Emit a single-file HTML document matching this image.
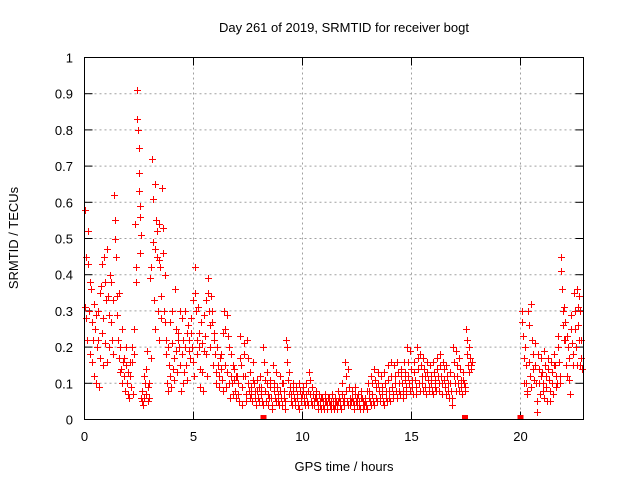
<!DOCTYPE html>
<html><head><meta charset="utf-8"><style>
body{margin:0;background:#fff}
svg text{font-family:"Liberation Sans",sans-serif;font-size:13px;fill:#000}
</style></head><body>
<svg id="chart" width="640" height="480" viewBox="0 0 640 480">
<rect width="640" height="480" fill="#fff"/>
<text x="344" y="32" text-anchor="middle">Day 261 of 2019, SRMTID for receiver bogt</text>
<text transform="translate(18,238) rotate(-90)" text-anchor="middle">SRMTID / TECUs</text>
<text x="344" y="471" text-anchor="middle">GPS time / hours</text>
<g id="grid"></g>
<g id="ticks"></g>
<g id="pts" shape-rendering="crispEdges"></g>
<rect x="84.5" y="57.5" width="499" height="362" fill="none" stroke="#000"/>
</svg>
<script>
const xTicks=[0,5,10,15,20];
const yTicks=[0,0.1,0.2,0.3,0.4,0.5,0.6,0.7,0.8,0.9,1];
const yTickLabels=["0","0.1","0.2","0.3","0.4","0.5","0.6","0.7","0.8","0.9","1"];
const times=[0,0.15,0.3,0.45,0.6,0.75,0.9,1.05,1.2,1.35,1.5,1.65,1.8,1.95,2.1,2.25,2.4,2.5,2.65,2.8,2.95,3.1,3.25,3.4,3.55,3.7,3.85,4,4.15,4.3,4.45,4.6,4.75,4.9,5.05,5.2,5.35,5.5,5.65,5.8,5.95,6.1,6.25,6.4,6.55,6.7,6.85,7,7.15,7.3,7.45,7.6,7.75,7.9,8.05,8.2,8.35,8.5,8.65,8.8,8.95,9.1,9.25,9.4,9.55,9.7,9.85,10,10.15,10.3,10.45,10.6,10.75,10.9,11.05,11.2,11.35,11.5,11.65,11.8,11.95,12.1,12.25,12.4,12.55,12.7,12.85,13,13.15,13.3,13.45,13.6,13.75,13.9,14.05,14.2,14.35,14.5,14.65,14.8,14.95,15.1,15.25,15.4,15.55,15.7,15.85,16,16.15,16.3,16.45,16.6,16.75,16.9,17.05,17.2,17.35,17.5,17.65,20.05,20.2,20.35,20.5,20.65,20.8,20.95,21.1,21.25,21.4,21.55,21.7,21.85,22,22.15,22.3,22.45,22.6,22.7];
const values=[
[.58,.31,.28,.45,.22],[.52,.43,.3,.18,.38],[.36,.27,.16,.22,.12],[.32,.25,.1,.29,.2],[.3,.22,.09,.35,.17],[.37,.43,.24,.15,.28],[.45,.38,.21,.33,.16],[.47,.34,.29,.2,.4],[.38,.27,.22,.33,.18],[.62,.55,.5,.45,.34],
[.29,.22,.17,.35,.13],[.2,.14,.1,.25,.16],[.17,.12,.08,.15,.2],[.1,.07,.13,.06,.16],[.12,.09,.16,.2,.07],[.25,.18,.54,.42,.38],[.91,.83,.8,.75,.63,.59,.51],[.68,.56,.46,.06,.05],[.08,.04,.12,.06,.1],[.07,.14,.19,.05,.09],
[.1,.06,.39,.42,.17],[.72,.61,.49,.33,.25,.47],[.65,.55,.52,.45,.3,.22],[.54,.44,.42,.34,.28],[.64,.53,.46,.3,.27],[.4,.22,.18,.1,.08],[.2,.15,.12,.27,.09],[.3,.21,.14,.11,.17],[.36,.25,.19,.13,.22],[.24,.2,.3,.15,.08],
[.18,.28,.1,.22,.13],[.3,.2,.15,.24,.11],[.26,.22,.19,.17,.28],[.24,.2,.33,.16,.12],[.42,.35,.3,.18,.22],[.31,.24,.2,.14,.09],[.27,.21,.13,.08,.19],[.29,.23,.18,.33,.12],[.39,.35,.3,.26,.2],[.34,.3,.27,.15,.22],
[.24,.18,.13,.1,.2],[.2,.15,.12,.09,.17],[.18,.14,.11,.08,.24],[.3,.25,.15,.09,.13],[.29,.23,.2,.1,.06],[.18,.12,.1,.07,.15],[.14,.11,.08,.06,.12],[.12,.1,.07,.05,.17],[.23,.15,.09,.04,.12],[.21,.18,.12,.07,.05],
[.22,.17,.1,.08,.06],[.13,.09,.07,.05,.11],[.16,.1,.08,.06,.04],[.11,.08,.06,.05,.09],[.12,.09,.07,.05,.04],[.2,.16,.11,.08,.05],[.13,.1,.07,.04,.06],[.11,.09,.06,.04,.03],[.15,.1,.08,.06,.05],[.13,.09,.07,.05,.04],
[.12,.08,.06,.04,.1],[.1,.08,.06,.05,.03],[.22,.2,.16,.11,.07],[.13,.09,.07,.05,.04],[.1,.08,.06,.05,.04],[.09,.07,.06,.04,.03],[.1,.08,.06,.05,.07],[.09,.08,.06,.05,.04],[.1,.07,.05,.04,.08],[.13,.11,.07,.05,.04],
[.09,.07,.05,.04,.06],[.08,.06,.05,.04,.03],[.07,.05,.04,.03,.06],[.06,.05,.04,.03,.05],[.07,.05,.04,.03,.06],[.06,.05,.04,.03,.05],[.07,.05,.04,.03,.04],[.06,.05,.04,.03,.05],[.08,.06,.05,.04,.03],[.1,.07,.05,.04,.06],
[.16,.12,.08,.05,.04],[.14,.09,.06,.04,.05],[.08,.06,.05,.04,.03],[.09,.07,.05,.04,.06],[.07,.05,.04,.03,.06],[.08,.06,.05,.03,.04],[.06,.05,.04,.03,.08],[.1,.08,.06,.05,.04],[.12,.1,.07,.05,.04],[.14,.11,.09,.06,.05],
[.13,.1,.08,.06,.05],[.12,.09,.07,.05,.04],[.13,.1,.08,.06,.05],[.15,.11,.08,.06,.05],[.16,.12,.09,.07,.06],[.15,.12,.1,.08,.06],[.16,.13,.1,.08,.07],[.14,.12,.1,.08,.06],[.16,.13,.11,.09,.07],[.2,.16,.12,.1,.08],
[.19,.14,.11,.09,.07],[.16,.13,.11,.09,.07],[.2,.17,.14,.1,.08],[.18,.15,.12,.1,.08],[.17,.14,.12,.09,.07],[.16,.13,.11,.09,.08],[.15,.12,.1,.08,.07],[.16,.13,.11,.09,.08],[.17,.14,.12,.1,.08],[.18,.15,.12,.1,.07],
[.16,.14,.11,.09,.07],[.15,.12,.1,.08,.06],[.13,.1,.08,.06,.04],[.2,.16,.12,.1,.08],[.19,.15,.12,.1,.08],[.17,.14,.11,.09,.07],[.13,.11,.1,.09,.08],[.25,.22,.18,.15,.13],[.2,.17,.15,.14,.16],
[.3,.27,.23,.17,.1],[.2,.15,.1,.08,.07],[.3,.26,.16,.12,.09],[.32,.22,.18,.14,.11],[.21,.15,.1,.05,.02],[.18,.14,.1,.07,.12],[.17,.13,.1,.08,.06],[.19,.15,.12,.09,.05],[.17,.14,.11,.08,.05],[.16,.13,.1,.07,.15],
[.18,.15,.12,.09,.1],[.23,.2,.16,.12,.1],[.45,.41,.36,.3,.26,.22],[.31,.27,.22,.15,.12],[.23,.2,.17,.11,.07],[.29,.25,.21,.18,.15],[.35,.3,.25,.2,.15],[.36,.31,.26,.22,.15],[.34,.3,.22,.17,.14]];
const zeroTimes=[8.2,17.45,20.0];

const NS="http://www.w3.org/2000/svg";
const X0=84.5,PXH=21.8,Y0=419.5,PXV=362;
function sx(t){return X0+t*PXH;}
function sy(v){return Y0-v*PXV;}
function mk(tag,a,parent){const e=document.createElementNS(NS,tag);for(const k in a)e.setAttribute(k,a[k]);parent.appendChild(e);return e;}
const grid=document.getElementById('grid'),ticks=document.getElementById('ticks'),pts=document.getElementById('pts');
yTicks.forEach((v,i)=>{
  const y=sy(v);
  if(i>0&&i<yTicks.length-1){const g=mk('line',{x1:84.5,x2:583.5,y1:y,y2:y,stroke:'#a0a0a0','stroke-dasharray':'2,3'},grid);
  
  }
  mk('line',{x1:84.5,x2:92.5,y1:y,y2:y,stroke:'#000'},ticks);
  mk('line',{x1:575.5,x2:583.5,y1:y,y2:y,stroke:'#000'},ticks);
  const t=mk('text',{x:73,y:y+5,'text-anchor':'end'},ticks);t.textContent=yTickLabels[i];
  
  
});
xTicks.forEach(v=>{
  const x=sx(v);
  if(v>0){const g=mk('line',{x1:x,x2:x,y1:57.5,y2:419.5,stroke:'#a0a0a0','stroke-dasharray':'2,3'},grid);
  
  }
  mk('line',{x1:x,x2:x,y1:419.5,y2:411.5,stroke:'#000'},ticks);
  mk('line',{x1:x,x2:x,y1:57.5,y2:65.5,stroke:'#000'},ticks);
  const t=mk('text',{x:x,y:441,'text-anchor':'middle'},ticks);t.textContent=String(v);
  
  
});
let d='';
times.forEach((t,i)=>{
  values[i].forEach((v,k)=>{
    const x=Math.round(sx(t+k*0.03))+0.5,y=Math.round(sy(v))+0.5;
    d+=`M${x-3.5} ${y}h7M${x} ${y-3.5}v7`;
  });
});
const p=mk('path',{d:d,stroke:'#ff0000','stroke-width':1,fill:'none'},pts);


zeroTimes.forEach(t=>{
  const r=mk('rect',{x:sx(t)-3,y:415,width:6,height:5,fill:'#ff0000'},pts);
  
  
});
</script>
</body></html>
